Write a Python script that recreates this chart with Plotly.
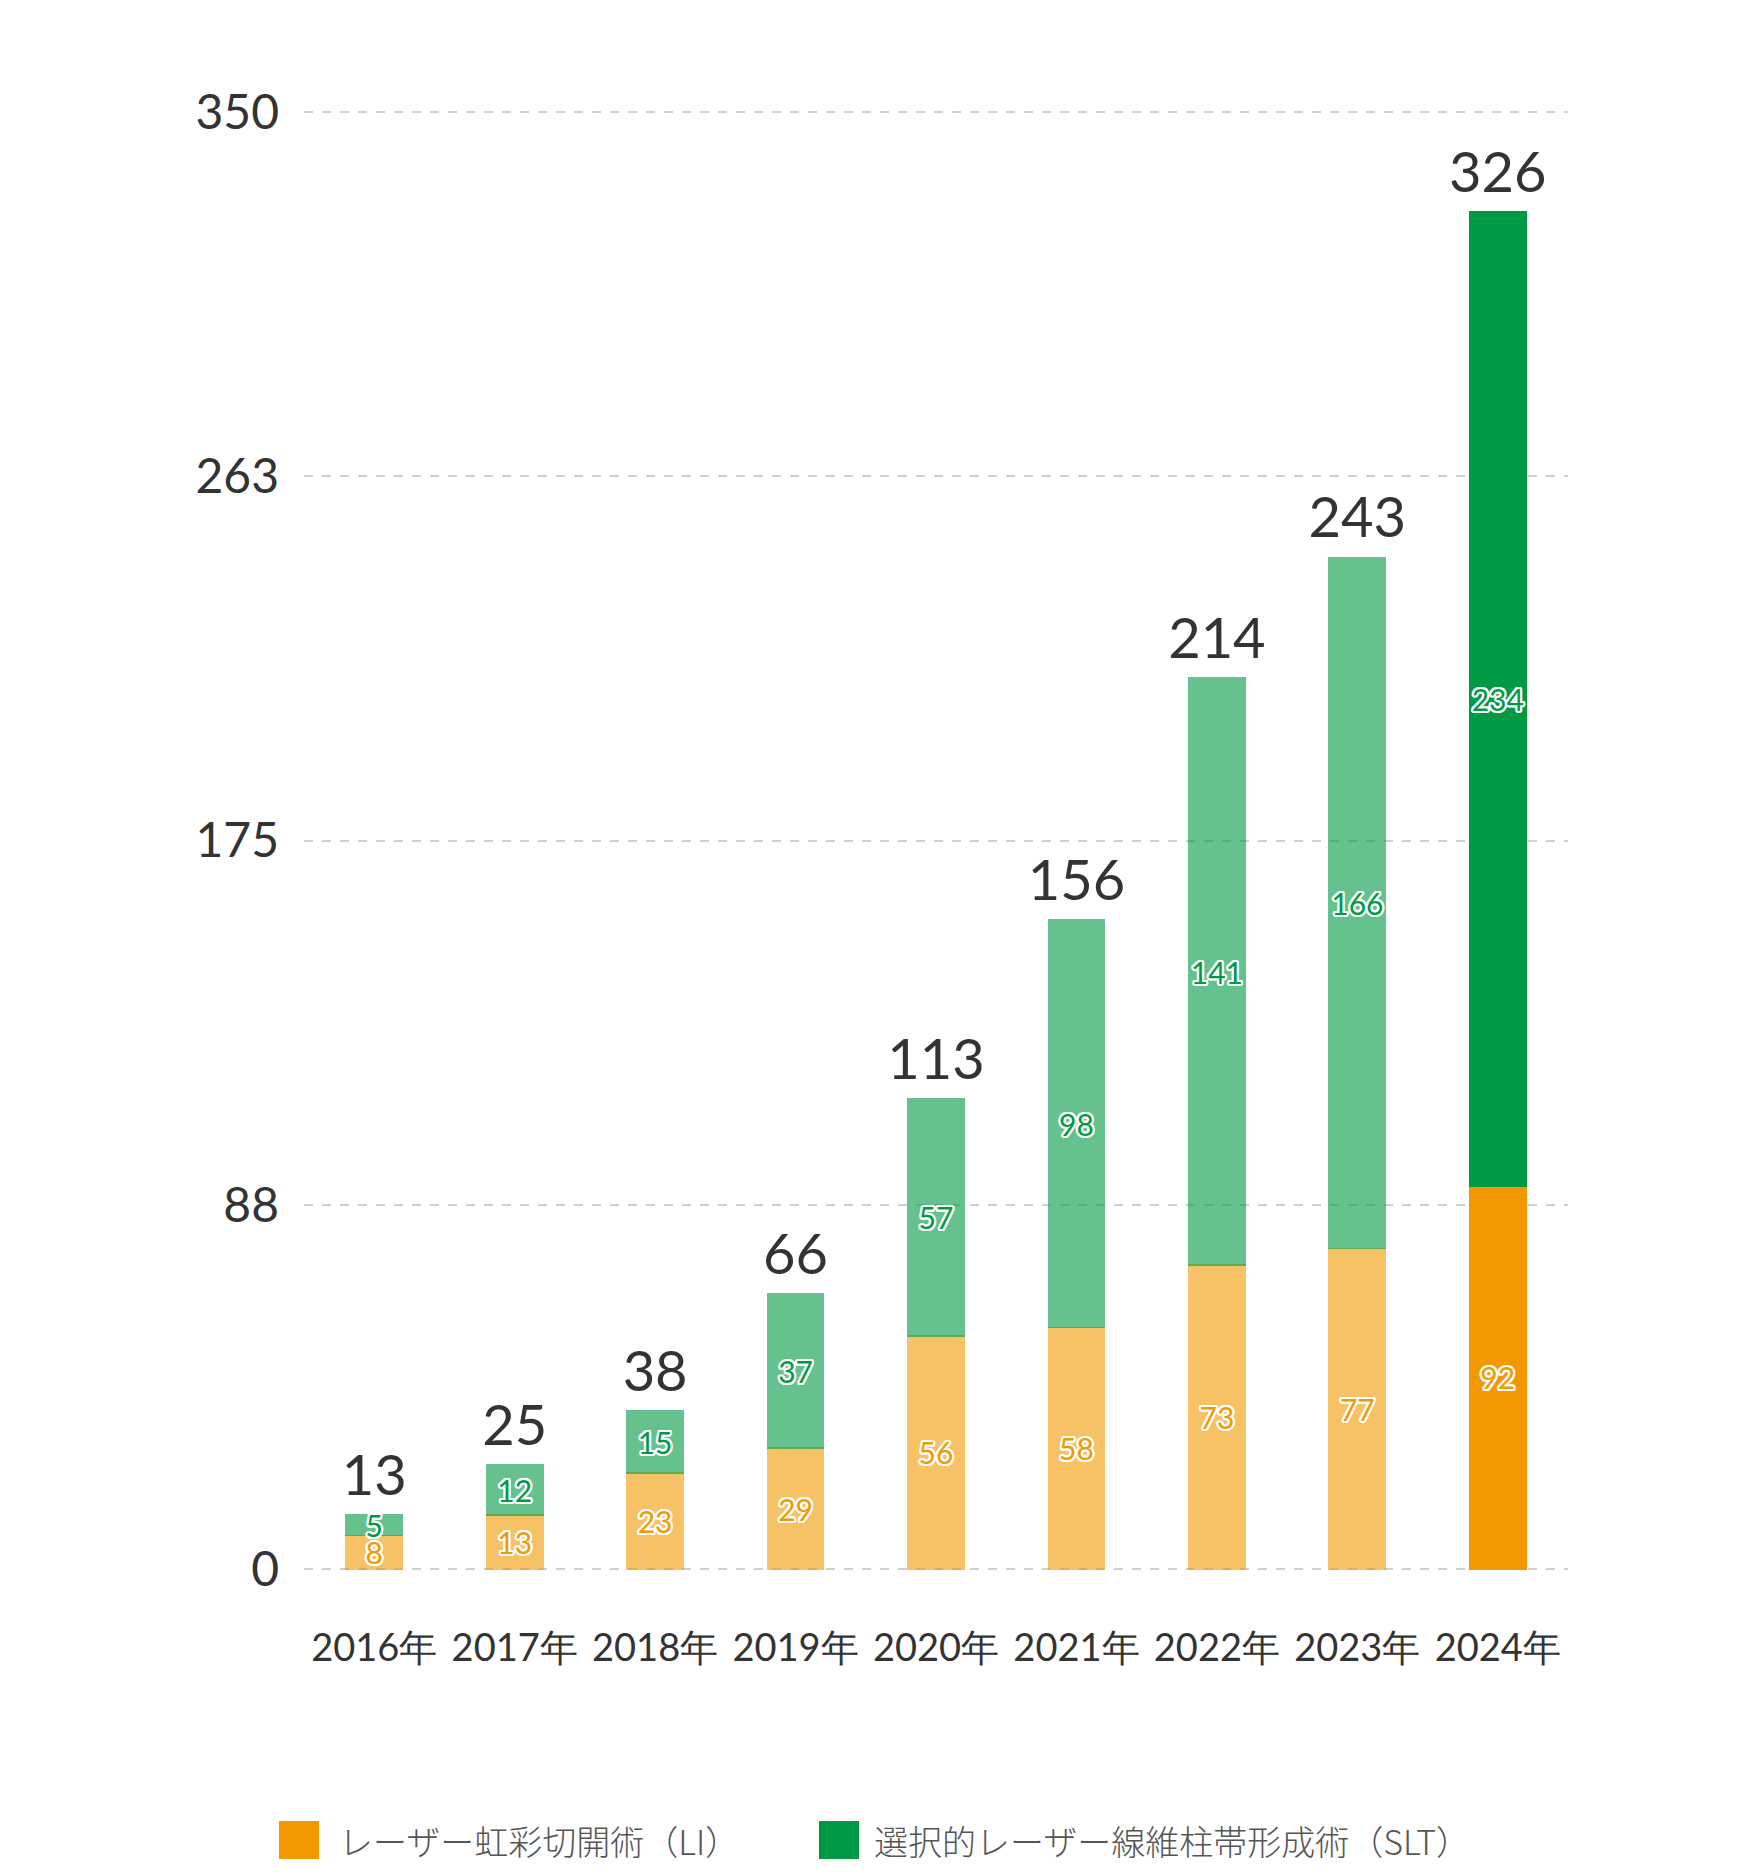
import plotly.graph_objects as go

years = ["2016年", "2017年", "2018年", "2019年", "2020年", "2021年", "2022年", "2023年", "2024年"]
li_values = [8, 13, 23, 29, 56, 58, 73, 77, 92]
slt_values = [5, 12, 15, 37, 57, 98, 141, 166, 234]
totals = [13, 25, 38, 66, 113, 156, 214, 243, 326]
ytick_vals = [0, 87.5, 175, 262.5, 350]
ytick_text = ["0", "88", "175", "263", "350"]
li_name = "レーザー虹彩切開術（LI）"
slt_name = "選択的レーザー線維柱帯形成術（SLT）"

ORANGE = "#F39800"
GREEN = "#009A44"
opac = [0.6] * (len(years) - 1) + [1.0]

outline = ", ".join(
    f"{dx}px {dy}px 0 #fff" for dx, dy in
    [(2, 0), (-2, 0), (0, 2), (0, -2), (1.5, 1.5), (-1.5, 1.5), (1.5, -1.5), (-1.5, -1.5),
     (2, 1), (-2, 1), (2, -1), (-2, -1), (1, 2), (-1, 2), (1, -2), (-1, -2)]
)
NUMFONT = "Lato, 'Noto Sans', sans-serif"

fig = go.Figure()
fig.add_trace(go.Bar(
    x=years, y=li_values, name=li_name,
    marker=dict(color=ORANGE, opacity=opac, line=dict(color=ORANGE, width=1.5)),
    text=[str(v) for v in li_values], textposition="inside", insidetextanchor="middle",
    constraintext="none", textangle=0,
    textfont=dict(family=NUMFONT, size=30, color=ORANGE, shadow=outline),
    width=0.4, showlegend=False,
))
fig.add_trace(go.Bar(
    x=years, y=slt_values, name=slt_name,
    marker=dict(color=GREEN, opacity=opac, line=dict(color=GREEN, width=1.5)),
    text=[str(v) for v in slt_values], textposition="inside", insidetextanchor="middle",
    constraintext="none", textangle=0,
    textfont=dict(family=NUMFONT, size=30, color=GREEN, shadow=outline),
    width=0.4, showlegend=False,
))
fig.add_trace(go.Scatter(
    x=years, y=totals, mode="markers+text", text=[str(t) for t in totals],
    textposition="top center",
    marker=dict(size=8, opacity=0),
    textfont=dict(family=NUMFONT, size=56, color="#333333"),
    showlegend=False, hoverinfo="skip", cliponaxis=False,
))

# Manual legend (large square swatches); coordinates in figure pixels
L, T, W, H = 296, 102, 1264, 1461
def px(x):
    return (x - L) / W
def py(y):
    return (T + H - y) / H

shapes = []
annotations = []
for sx, tx, col, name in [(271, 329, ORANGE, li_name), (811, 864, GREEN, slt_name)]:
    shapes.append(dict(type="rect", xref="paper", yref="paper",
                       x0=px(sx), x1=px(sx + 40), y0=py(1813), y1=py(1851),
                       fillcolor=col, line=dict(width=0)))
    annotations.append(dict(xref="paper", yref="paper", x=px(tx), y=py(1832),
                            xanchor="left", yanchor="middle", showarrow=False,
                            text=name,
                            font=dict(family="'Noto Sans CJK JP', sans-serif", size=34,
                                      weight=300, color="#555555")))

fig.update_layout(
    barmode="stack",
    width=1760, height=1872,
    margin=dict(l=L, r=1760 - L - W, t=T, b=1872 - T - H, autoexpand=False),
    paper_bgcolor="white", plot_bgcolor="white",
    shapes=shapes, annotations=annotations,
    showlegend=False,
    font=dict(family=NUMFONT, color="#333333"),
)
fig.update_xaxes(
    showgrid=False, showline=False, zeroline=False, automargin=False,
    tickfont=dict(family=NUMFONT, size=38, color="#333333"),
    tickangle=0, ticklabelstandoff=51, ticks="",
    range=[-0.5, 8.5],
)
fig.update_yaxes(
    range=[-0.5, 350.5], tickvals=ytick_vals, ticktext=ytick_text,
    showgrid=True, gridcolor="#D0D0D0", griddash="dash", gridwidth=1.5,
    zeroline=False, showline=False, automargin=False,
    tickfont=dict(family=NUMFONT, size=48, color="#333333"),
    ticklabelstandoff=24,
)

fig.write_html("out.html")
